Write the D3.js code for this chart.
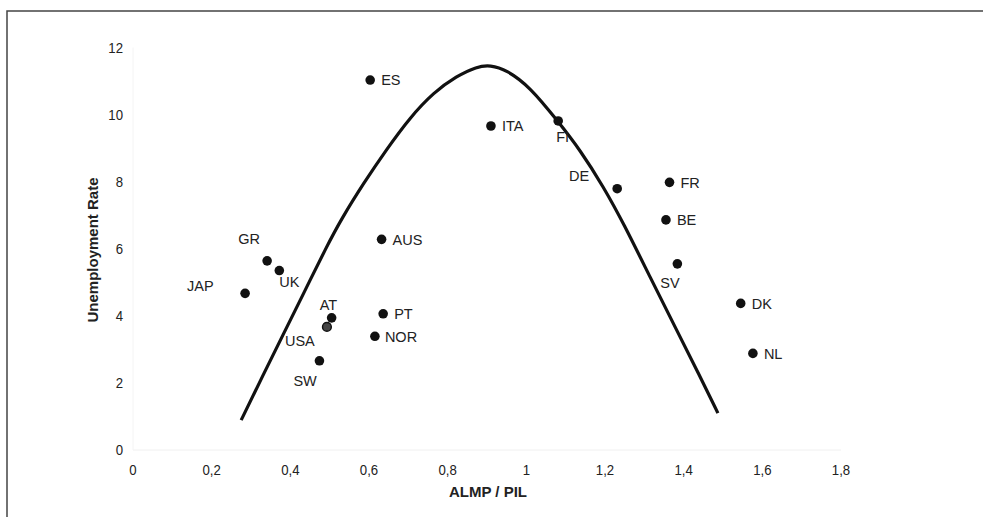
<!DOCTYPE html>
<html>
<head>
<meta charset="utf-8">
<script src="https://cdn.jsdelivr.net/npm/d3@7"></script>
<style>
  body { margin: 0; background: #fff; }
  svg { display: block; }
</style>
</head>
<body>
<svg id="chart"></svg>
<script>
// countries and their (ALMP/PIL, unemployment) values
const countries = ['ES', 'ITA', 'FI', 'DE', 'FR', 'BE', 'SV', 'DK', 'NL', 'AUS', 'PT', 'NOR', 'AT', 'USA', 'SW', 'GR', 'UK', 'JAP'];
const almp = [0.603, 0.910, 1.081, 1.231, 1.364, 1.355, 1.384, 1.545, 1.576, 0.632, 0.636, 0.615, 0.505, 0.493, 0.474, 0.341, 0.372, 0.285];
const unemp = [11.03, 9.66, 9.81, 7.79, 7.98, 6.86, 5.55, 4.37, 2.88, 6.28, 4.06, 3.39, 3.94, 3.67, 2.66, 5.64, 5.35, 4.67];

// the hand drawn hump curve, traced point by point
const curveX = [0.275, 0.331, 0.382, 0.433, 0.492, 0.531, 0.586, 0.645, 0.704, 0.764, 0.823, 0.874, 0.908, 0.950, 1.009, 1.081, 1.137, 1.196, 1.247, 1.314, 1.382, 1.442, 1.487];
const curveY = [0.89, 2.24, 3.45, 4.65, 6.06, 6.91, 7.95, 8.97, 9.91, 10.66, 11.15, 11.43, 11.48, 11.33, 10.83, 9.79, 8.94, 7.85, 6.76, 5.17, 3.58, 2.18, 1.10];

const xTicks = [0, 0.2, 0.4, 0.6, 0.8, 1, 1.2, 1.4, 1.6, 1.8];
const yTicks = [0, 2, 4, 6, 8, 10, 12];

const width = 983, height = 517;
const x0 = 133, x1 = 841, yBottom = 450, yTop = 47.5;

// label offsets relative to the dot: [dx, dy, anchor]
const labelPos = {
  ES: [11, 0, 'start'], ITA: [11, 0, 'start'], FI: [-2, 16, 'start'],
  DE: [-28, -13, 'end'], FR: [11, 0, 'start'], BE: [11, 0, 'start'],
  SV: [-17, 19, 'start'], DK: [11, 0, 'start'], NL: [11, 0, 'start'],
  AUS: [11, 0, 'start'], PT: [11, 0, 'start'], NOR: [10, 0, 'start'],
  AT: [-12, -13, 'start'], USA: [-42, 14, 'start'], SW: [-26, 20, 'start'],
  GR: [-29, -22, 'start'], UK: [0, 11, 'start'], JAP: [-58, -8, 'start']
};

const svg = d3.select('#chart')
  .attr('width', width)
  .attr('height', height)
  .attr('viewBox', [0, 0, width, height]);

const x = d3.scaleLinear().domain([0, 1.8]).range([x0, x1]);
const y = d3.scaleLinear().domain([0, 12]).range([yBottom, yTop]);

const font = '"Liberation Sans", Arial, sans-serif';
const squeeze = 0.88; // tick labels are set in a narrow face

// outer frame (only top and left edges show)
svg.append('path')
  .attr('d', `M7,${height} L7,11 L${width},11`)
  .attr('fill', 'none')
  .attr('stroke', '#444')
  .attr('stroke-width', 1.5);

// faint axes
svg.append('line')
  .attr('x1', x(0)).attr('x2', x(1.8))
  .attr('y1', y(0)).attr('y2', y(0))
  .attr('stroke', '#f0f0f0');
svg.append('line')
  .attr('x1', x(0)).attr('x2', x(0))
  .attr('y1', y(0)).attr('y2', y(12))
  .attr('stroke', '#f4f4f4');

// x tick labels
svg.append('g').selectAll('text')
  .data(xTicks)
  .enter().append('text')
  .attr('transform', d => `translate(${x(d)}, 475) scale(${squeeze}, 1)`)
  .attr('text-anchor', 'middle')
  .style('font-family', font)
  .style('font-size', '15px')
  .style('fill', '#222')
  .text(d => String(d).replace('.', ','));

// y tick labels
svg.append('g').selectAll('text')
  .data(yTicks)
  .enter().append('text')
  .attr('transform', d => `translate(123, ${y(d)}) scale(${squeeze}, 1)`)
  .attr('dy', '0.36em')
  .attr('text-anchor', 'end')
  .style('font-family', font)
  .style('font-size', '15px')
  .style('fill', '#222')
  .text(d => d);

// axis titles
svg.append('text')
  .attr('x', 488)
  .attr('y', 497)
  .attr('text-anchor', 'middle')
  .style('font-family', font)
  .style('font-size', '15px')
  .style('font-weight', 'bold')
  .style('fill', '#222')
  .text('ALMP / PIL');

svg.append('text')
  .attr('transform', 'translate(98, 250) rotate(-90)')
  .attr('text-anchor', 'middle')
  .style('font-family', font)
  .style('font-size', '15px')
  .style('font-weight', 'bold')
  .style('fill', '#222')
  .text('Unemployment Rate');

// the curve
const line = d3.line()
  .x(d => x(curveX[d]))
  .y(d => y(curveY[d]))
  .curve(d3.curveBasis);

svg.append('path')
  .attr('d', line(d3.range(curveX.length)))
  .attr('fill', 'none')
  .attr('stroke', '#111')
  .attr('stroke-width', 3.2)
  .attr('stroke-linejoin', 'round');

// dots
const pts = svg.append('g');
pts.selectAll('circle')
  .data(countries)
  .enter().append('circle')
  .attr('cx', (d, i) => x(almp[i]))
  .attr('cy', (d, i) => y(unemp[i]))
  .attr('r', d => d == 'USA' ? 4.4 : 4.8)
  .style('fill', d => d == 'USA' ? '#444' : '#111')
  .style('stroke', d => d == 'USA' ? '#111' : 'none')
  .style('stroke-width', 1.4);

// country labels
pts.selectAll('text')
  .data(countries)
  .enter().append('text')
  .attr('x', (d, i) => x(almp[i]) + labelPos[d][0])
  .attr('y', (d, i) => y(unemp[i]) + labelPos[d][1])
  .attr('dy', '0.36em')
  .attr('text-anchor', d => labelPos[d][2])
  .style('font-family', font)
  .style('font-size', '14.5px')
  .style('fill', '#222')
  .text(d => d);
</script>
</body>
</html>
